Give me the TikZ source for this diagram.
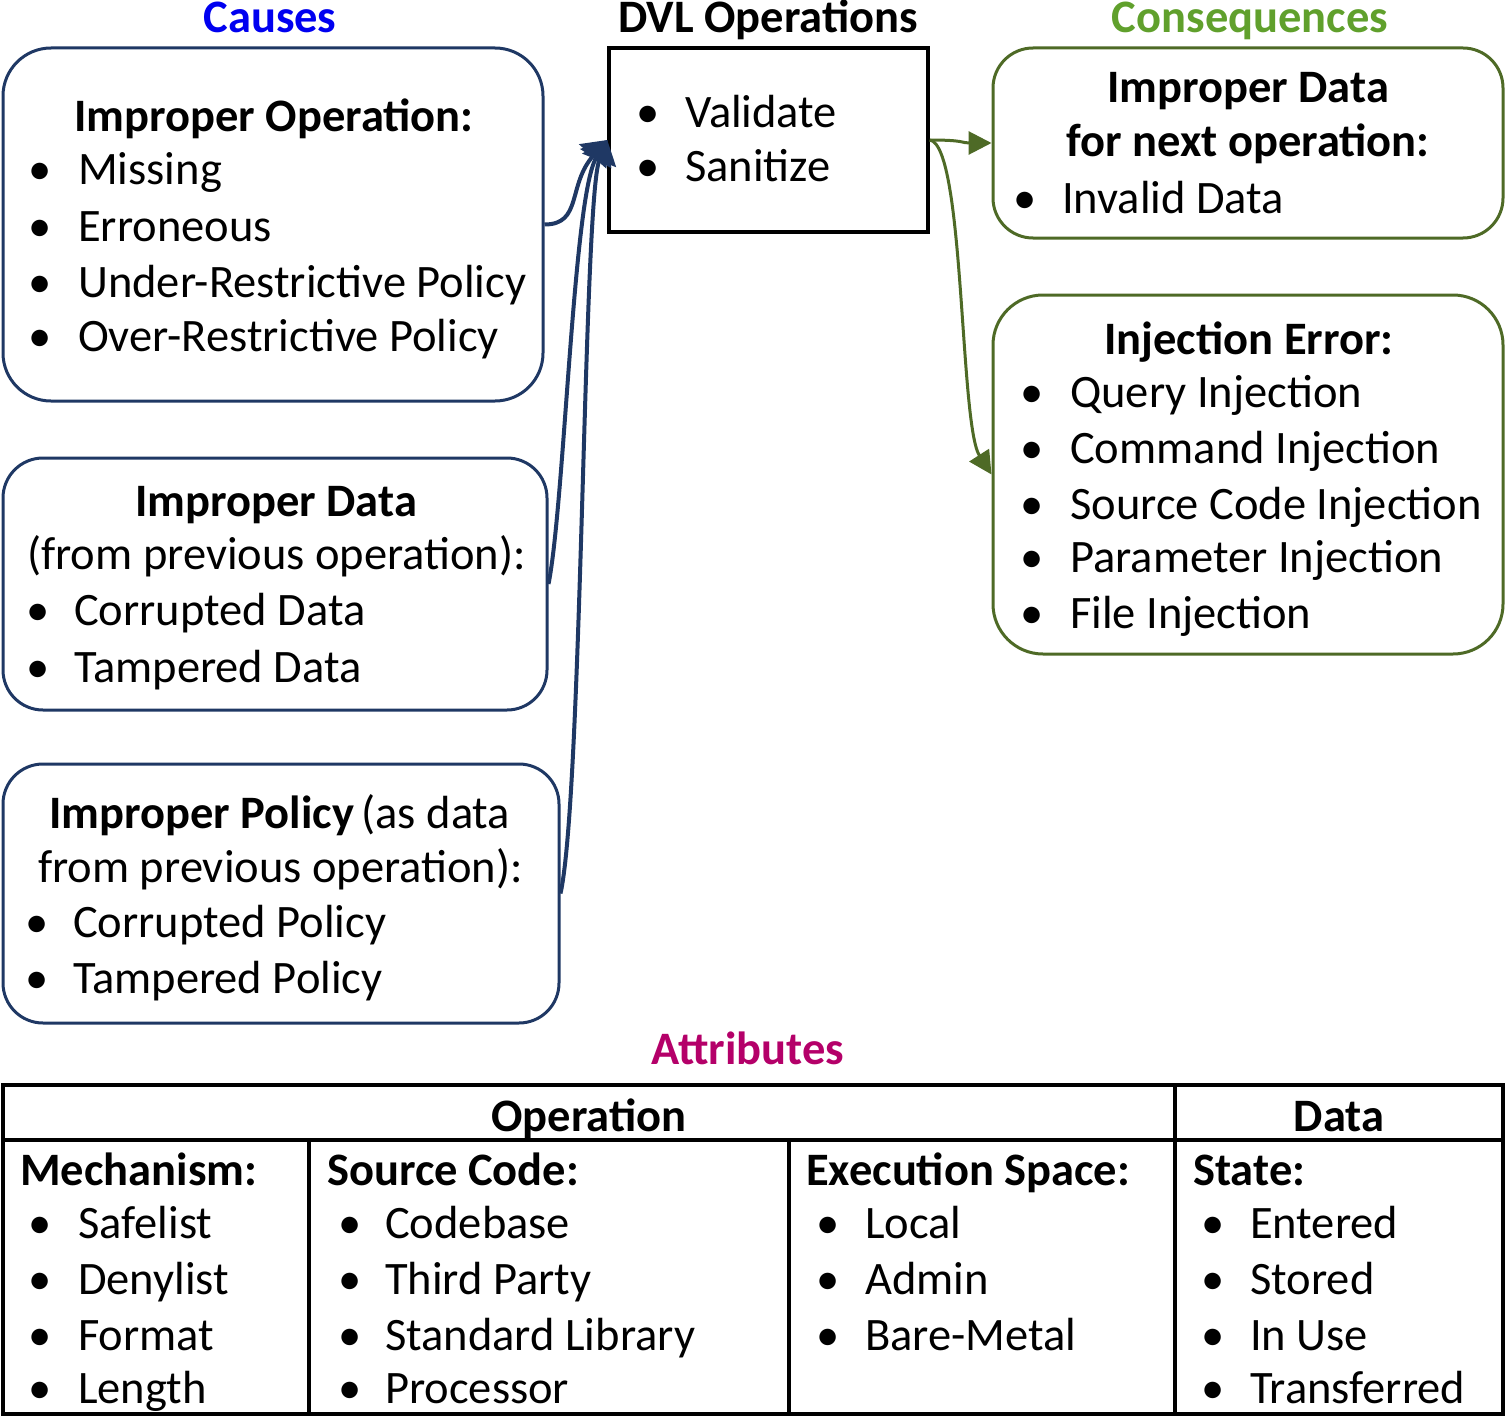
\documentclass[tikz,border=0pt]{standalone}
\usepackage{fontspec}
\setmainfont{Carlito}
\usetikzlibrary{arrows.meta}

\definecolor{navy}{RGB}{31,56,100}
\definecolor{olive}{RGB}{78,106,38}
\definecolor{causeblue}{RGB}{0,0,240}
\definecolor{conseqgreen}{RGB}{96,160,44}
\definecolor{attrmagenta}{RGB}{180,0,105}

\newcommand\bodyfont{\fontsize{46.5}{56}\selectfont}
\newcommand\titlefont{\fontsize{46.5}{56}\selectfont\bfseries}

% bullet item: name, bullet x, text x, baseline y, text
\newcommand\bitem[5]{%
  \node[txt,anchor=base] (#1b) at (#2,#4) {\textbullet};
  \node[txt] (#1) at (#3,#4) {#5};}

\begin{document}
\begin{tikzpicture}[x=1pt,y=-1pt,
  txt/.style={font=\bodyfont,anchor=base west,inner sep=0pt},
  ctxt/.style={font=\bodyfont,anchor=base,inner sep=0pt},
  title/.style={font=\titlefont,anchor=base,inner sep=0pt},
  causebox/.style={draw=navy,line width=3pt,rounded corners=#1,inner sep=0pt},
  conbox/.style={draw=olive,line width=3pt,rounded corners=#1,inner sep=0pt},
  opbox/.style={draw=black,line width=3.5pt,inner sep=0pt},
  navyline/.style={draw=navy,line width=4pt,-{Triangle[length=22pt,width=36pt]}},
  oliveline/.style={draw=olive,line width=3pt,-{Triangle[length=23pt,width=23pt]}},
  grid/.style={draw=black,line width=4pt}]

\useasboundingbox (0,0) rectangle (1505,1418);

% column titles
\node[title,text=causeblue] (tcauses) at (270,33) {Causes};
\node[title] (tdvl) at (768,33) {DVL Operations};
\node[title,text=conseqgreen] (tcons) at (1250,33) {Consequences};
\node[title,text=attrmagenta] (tattr) at (748,1064) {Attributes};

% causes
\node[causebox=48pt,minimum width=540pt,minimum height=353pt] (c1) at (273,224.5) {};
\node[txt,font=\bodyfont\bfseries] (c1h) at (74,132) {Improper Operation:};
\bitem{c1a}{40}{78}{185}{Missing}
\bitem{c1b}{40}{78}{241}{Erroneous}
\bitem{c1c}{40}{78}{297}{Under-Restrictive Policy}
\bitem{c1d}{40}{78}{351}{Over-Restrictive Policy}

\node[causebox=40pt,minimum width=544pt,minimum height=252pt] (c2) at (275,584) {};
\node[txt,font=\bodyfont\bfseries] (c2h) at (135,516) {Improper Data};
\node[txt] (c2s) at (27,569) {(from previous operation):};
\bitem{c2a}{38}{74}{625}{Corrupted Data}
\bitem{c2b}{38}{74}{682}{Tampered Data}

\node[causebox=40pt,minimum width=556pt,minimum height=259pt] (c3) at (281,893.5) {};
\node[txt] (c3h) at (49,828) {\textbf{Improper Policy}\hspace{-3pt} (as data};
\node[txt] (c3s) at (38,882) {from previous operation):};
\bitem{c3a}{37}{73}{937}{Corrupted Policy}
\bitem{c3b}{37}{73}{993}{Tampered Policy}

% DVL operations
\node[opbox,minimum width=319pt,minimum height=184pt] (dvl) at (768.5,140) {};
\bitem{dvla}{648}{685}{128}{Validate}
\bitem{dvlb}{648}{685}{182}{Sanitize}

% consequences
\node[conbox=40pt,minimum width=510pt,minimum height=190pt] (k1) at (1248,143) {};
\node[ctxt,font=\bodyfont\bfseries] (k1h) at (1248,103) {Improper Data};
\node[ctxt,font=\bodyfont\bfseries] (k1s) at (1248,157) {for next operation:};
\bitem{k1a}{1025}{1062}{213}{Invalid Data}

\node[conbox=50pt,minimum width=510pt,minimum height=359pt] (k2) at (1248,474.5) {};
\node[ctxt,font=\bodyfont\bfseries] (k2h) at (1249,354) {Injection Error:};
\bitem{k2a}{1032}{1070}{407}{Query Injection}
\bitem{k2b}{1032}{1070}{463}{Command Injection}
\bitem{k2c}{1032}{1070}{519}{Source Code Injection}
\bitem{k2d}{1032}{1070}{572}{Parameter Injection}
\bitem{k2e}{1032}{1070}{628}{File Injection}

% causes feed the operation
\draw[navyline] (c1.east) .. controls +(38,0) and +(-40,45) .. (dvl.west);
\draw[navyline] (c2.east) .. controls +(16,-80) and +(-34,55) .. (dvl.west);
\draw[navyline] (c3.east) .. controls +(22,-100) and +(-24,60) .. (dvl.west);

% operation leads to consequences
\draw[oliveline] (dvl.east) .. controls +(35,0) and +(-30,0) .. (k1.west);
\draw[oliveline] (dvl.east) .. controls +(35,5) and +(-32,-50) .. (k2.west);

% attribute table
\draw[grid] (3,1085) rectangle (1503,1414);
\draw[grid] (3,1140) -- (1503,1140);
\draw[grid] (1175,1085) -- (1175,1414);
\draw[grid] (309,1140) -- (309,1414);
\draw[grid] (789,1140) -- (789,1414);

\node[ctxt,font=\bodyfont\bfseries] (thop) at (589,1131) {Operation};
\node[ctxt,font=\bodyfont\bfseries] (thdata) at (1339,1131) {Data};

\node[txt,font=\bodyfont\bfseries] (mech) at (20,1185) {Mechanism:};
\bitem{mecha}{40}{78}{1238}{Safelist}
\bitem{mechb}{40}{78}{1294}{Denylist}
\bitem{mechc}{40}{78}{1350}{Format}
\bitem{mechd}{40}{78}{1403}{Length}

\node[txt,font=\bodyfont\bfseries] (src) at (327,1185) {Source Code:};
\bitem{srca}{350}{385}{1238}{Codebase}
\bitem{srcb}{350}{385}{1294}{Third Party}
\bitem{srcc}{350}{385}{1350}{Standard Library}
\bitem{srcd}{350}{385}{1403}{Processor}

\node[txt,font=\bodyfont\bfseries] (exe) at (806,1185) {Execution Space:};
\bitem{exea}{828}{865}{1238}{Local}
\bitem{exeb}{828}{865}{1294}{Admin}
\bitem{exec}{828}{865}{1350}{Bare-Metal}

\node[txt,font=\bodyfont\bfseries] (state) at (1193,1185) {State:};
\bitem{statea}{1213}{1250}{1238}{Entered}
\bitem{stateb}{1213}{1250}{1294}{Stored}
\bitem{statec}{1213}{1250}{1350}{In Use}
\bitem{stated}{1213}{1250}{1403}{Transferred}
\end{tikzpicture}
\end{document}
